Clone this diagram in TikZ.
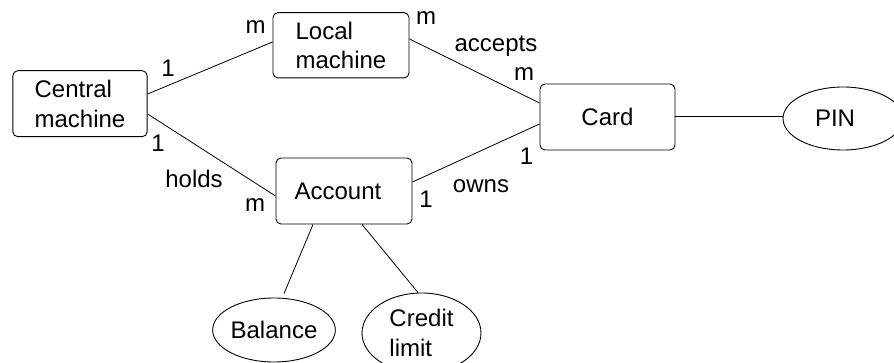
\documentclass[tikz,border=0pt]{standalone}
\usepackage{fontspec}
\setmainfont{Liberation Sans}
\usetikzlibrary{shapes.geometric}
\begin{document}
\begin{tikzpicture}[x=1pt,y=-1pt,
  txt/.style={font=\fontsize{24}{29.5}\selectfont},
  ent/.style={txt, draw, rounded corners=5pt, line width=0.9pt, inner sep=0pt, align=left},
  attr/.style={txt, draw, ellipse, line width=0.9pt, inner sep=0pt, align=left},
  lbl/.style={txt, anchor=base, inner sep=0pt},
  rel/.style={line width=0.8pt}]
\useasboundingbox (0,0) rectangle (894,363);
% entities
\node[ent, minimum width=134.3pt, minimum height=66pt] (central) at (80,103.7) {Central\\machine};
\node[ent, minimum width=136pt, minimum height=65.3pt] (local) at (341,45.3) {Local\\machine};
\node[ent, minimum width=136pt, minimum height=66pt] (account) at (344,191) {Account\hspace*{12pt}};
\node[ent, minimum width=135pt, minimum height=66pt] (card) at (607.5,117) {Card};
% attributes
\node[attr, minimum width=120pt, minimum height=63pt] (pin) at (843,118.5) {PIN\hspace*{16pt}};
\node[attr, minimum width=118pt, minimum height=64pt] (balance) at (274,330) {Balance};
\node[attr, minimum width=119pt, minimum height=80pt] (credit) at (421.5,333) {Credit\\limit};
% relationships
\draw[rel] ([yshift=9.7pt]central.east) -- ([yshift=3.3pt]local.west);
\draw[rel] ([yshift=-10.3pt]central.east) -- ([yshift=-5pt]account.west);
\draw[rel] ([yshift=6.3pt]local.east) -- ([yshift=14pt]card.west);
\draw[rel] ([yshift=9pt]account.east) -- ([yshift=-7pt]card.west);
\draw[rel] ([yshift=1pt]card.east) -- ([yshift=1pt]card.east -| pin.west);
\draw[rel] ([xshift=-31pt]account.south) -- ([xshift=10pt,yshift=4pt]balance.north);
\draw[rel] ([xshift=18pt]account.south) -- ([xshift=-3.5pt]credit.north);
% labels
\node[lbl] (m1) at (255.5,33.3) {m};
\node[lbl] (o1) at (168,77) {1};
\node[lbl] (o2) at (158,152) {1};
\node[lbl] (holds) at (194,188) {holds};
\node[lbl] (m2) at (255,212) {m};
\node[lbl] (m3) at (426,25) {m};
\node[lbl] (accepts) at (496,51.7) {accepts};
\node[lbl] (m4) at (524,81) {m};
\node[lbl] (o3) at (526.5,165) {1};
\node[lbl] (owns) at (481,193) {owns};
\node[lbl] (o4) at (426,208) {1};
\end{tikzpicture}
\end{document}
